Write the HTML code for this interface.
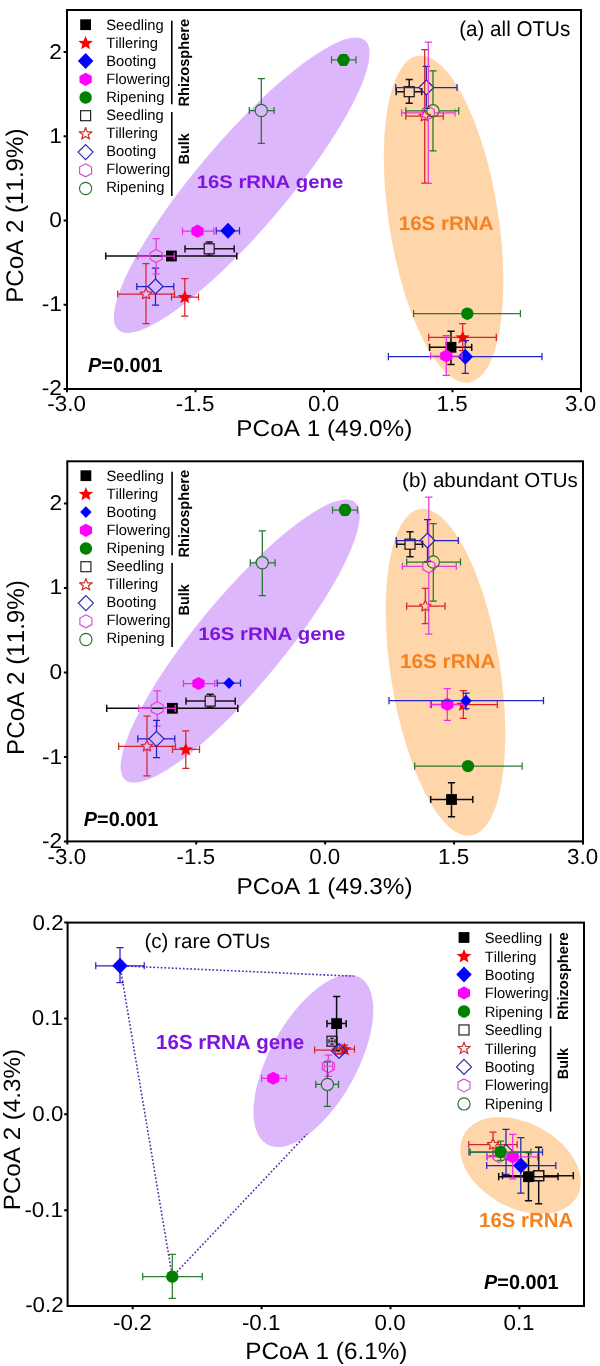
<!DOCTYPE html>
<html><head><meta charset="utf-8"><title>PCoA</title>
<style>html,body{margin:0;padding:0;background:#fff}svg{display:block;will-change:transform}text{font-kerning:none;text-rendering:geometricPrecision}</style></head>
<body>
<svg width="600" height="1366" viewBox="0 0 600 1366" font-family="'Liberation Sans', sans-serif">
<rect width="600" height="1366" fill="#fff"/>
<ellipse cx="241.7" cy="185.2" rx="190.2" ry="44.8" transform="rotate(-49.6 241.7 185.2)" fill="#ddb7fc"/>
<ellipse cx="443.6" cy="219.1" rx="165.3" ry="54.7" transform="rotate(-98.9 443.6 219.1)" fill="#ffd5aa"/>
<rect x="67" y="10" width="514.0" height="379.0" fill="none" stroke="#000" stroke-width="2"/>
<path d="M67.00 389.0v3.2M195.50 389.0v3.2M324.00 389.0v3.2M452.50 389.0v3.2M581.00 389.0v3.2M67 389.00h-3.4M67 304.78h-3.4M67 220.56h-3.4M67 136.33h-3.4M67 52.11h-3.4" stroke="#000" stroke-width="2" fill="none"/>
<text transform="matrix(0.2240 0 0 0.2179 47.30 411.10)" font-size="100" font-weight="normal" font-style="normal" fill="#000">-3.0</text>
<text transform="matrix(0.2240 0 0 0.2179 175.80 411.10)" font-size="100" font-weight="normal" font-style="normal" fill="#000">-1.5</text>
<text transform="matrix(0.2240 0 0 0.2179 308.03 411.10)" font-size="100" font-weight="normal" font-style="normal" fill="#000">0.0</text>
<text transform="matrix(0.2240 0 0 0.2179 436.53 411.10)" font-size="100" font-weight="normal" font-style="normal" fill="#000">1.5</text>
<text transform="matrix(0.2240 0 0 0.2179 565.03 411.10)" font-size="100" font-weight="normal" font-style="normal" fill="#000">3.0</text>
<text transform="matrix(0.2280 0 0 0.2136 41.73 394.80)" font-size="100" font-weight="normal" font-style="normal" fill="#000">-2</text>
<text transform="matrix(0.2280 0 0 0.2136 41.73 311.38)" font-size="100" font-weight="normal" font-style="normal" fill="#000">-1</text>
<text transform="matrix(0.2280 0 0 0.2136 49.32 227.06)" font-size="100" font-weight="normal" font-style="normal" fill="#000">0</text>
<text transform="matrix(0.2280 0 0 0.2136 49.32 142.93)" font-size="100" font-weight="normal" font-style="normal" fill="#000">1</text>
<text transform="matrix(0.2280 0 0 0.2136 49.32 58.71)" font-size="100" font-weight="normal" font-style="normal" fill="#000">2</text>
<text transform="matrix(0.2436 0 0 0.2298 236.29 435.60)" font-size="100" font-weight="normal" font-style="normal" fill="#000">PCoA 1 (49.0%)</text>
<text transform="translate(23.10 302.79) rotate(-90) scale(0.2412 0.2415)" font-size="100" font-weight="normal" font-style="normal" fill="#000">PCoA 2 (11.9%)</text>
<text transform="matrix(0.2060 0 0 0.2138 459.21 35.90)" font-size="100" font-weight="normal" font-style="normal" fill="#000">(a) all OTUs</text>
<text transform="matrix(0.1985 0 0 0.2036 88.05 372.40)" font-size="100" font-weight="bold"><tspan font-style="italic">P</tspan>=0.001</text>
<text transform="matrix(0.2027 0 0 0.1835 196.73 188.00)" font-size="100" font-weight="bold" font-style="normal" fill="#7d14e0">16S rRNA gene</text>
<text transform="matrix(0.2056 0 0 0.1978 398.71 230.40)" font-size="100" font-weight="bold" font-style="normal" fill="#f5821e">16S rRNA</text>
<rect x="80.20" y="19.30" width="10.80" height="10.80" fill="#000000"/>
<text transform="matrix(0.1479 0 0 0.1498 106.13 29.80)" font-size="100" font-weight="normal" font-style="normal" fill="#000">Seedling</text>
<polygon points="85.60,35.90 87.59,40.67 92.92,41.01 88.82,44.31 90.12,49.29 85.60,46.56 81.08,49.29 82.38,44.31 78.28,41.01 83.61,40.67" fill="#ff0000" stroke-linejoin="round"/>
<text transform="matrix(0.1479 0 0 0.1498 106.13 47.85)" font-size="100" font-weight="normal" font-style="normal" fill="#000">Tillering</text>
<polygon points="85.60,53.10 93.35,61.10 85.60,69.10 77.85,61.10" fill="#0000ff"/>
<text transform="matrix(0.1479 0 0 0.1498 106.13 65.90)" font-size="100" font-weight="normal" font-style="normal" fill="#000">Booting</text>
<polygon points="85.60,72.70 91.70,76.00 91.70,82.60 85.60,85.90 79.50,82.60 79.50,76.00" fill="#ff00ff"/>
<text transform="matrix(0.1479 0 0 0.1498 106.13 83.95)" font-size="100" font-weight="normal" font-style="normal" fill="#000">Flowering</text>
<ellipse cx="85.60" cy="97.50" rx="6.20" ry="6.20" fill="#008000"/>
<text transform="matrix(0.1479 0 0 0.1498 106.13 102.00)" font-size="100" font-weight="normal" font-style="normal" fill="#000">Ripening</text>
<rect x="80.60" y="110.70" width="10.00" height="10.00" fill="none" stroke="#1c1c1c" stroke-width="1.15"/>
<text transform="matrix(0.1479 0 0 0.1498 106.13 120.05)" font-size="100" font-weight="normal" font-style="normal" fill="#000">Seedling</text>
<polygon points="85.60,127.50 87.16,131.83 91.93,131.92 88.13,134.69 89.51,139.08 85.60,136.46 81.69,139.08 83.07,134.69 79.27,131.92 84.04,131.83" fill="none" stroke="#c8302c" stroke-width="1.15" stroke-linejoin="round"/>
<text transform="matrix(0.1479 0 0 0.1498 106.13 138.10)" font-size="100" font-weight="normal" font-style="normal" fill="#000">Tillering</text>
<polygon points="85.60,144.60 93.10,152.10 85.60,159.60 78.10,152.10" fill="none" stroke="#2a2aa6" stroke-width="1.15"/>
<text transform="matrix(0.1479 0 0 0.1498 106.13 156.15)" font-size="100" font-weight="normal" font-style="normal" fill="#000">Booting</text>
<polygon points="85.60,163.80 91.60,167.05 91.60,173.55 85.60,176.80 79.60,173.55 79.60,167.05" fill="none" stroke="#d44ed2" stroke-width="1.15"/>
<text transform="matrix(0.1479 0 0 0.1498 106.13 174.20)" font-size="100" font-weight="normal" font-style="normal" fill="#000">Flowering</text>
<ellipse cx="85.60" cy="188.50" rx="6.10" ry="6.10" fill="none" stroke="#2c702e" stroke-width="1.15"/>
<text transform="matrix(0.1479 0 0 0.1498 106.13 192.25)" font-size="100" font-weight="normal" font-style="normal" fill="#000">Ripening</text>
<path d="M171.8 20.80V104.20M171.8 112.00V196.00" stroke="#000" stroke-width="1.6" fill="none"/>
<text transform="translate(188.70 106.59) rotate(-90) scale(0.1461 0.1490)" font-size="100" font-weight="bold" font-style="normal" fill="#000">Rhizosphere</text>
<text transform="translate(188.70 164.46) rotate(-90) scale(0.1448 0.1490)" font-size="100" font-weight="bold" font-style="normal" fill="#000">Bulk</text>
<path d="M105.70 256.00L171.40 256.00 M105.70 252.40L105.70 259.60 M171.40 256.00L236.80 256.00 M236.80 252.40L236.80 259.60" stroke="#0c0c0c" stroke-width="1.5" fill="none"/>
<path d="M429.60 347.30L451.00 347.30 M429.60 343.70L429.60 350.90 M451.00 347.30L471.70 347.30 M471.70 343.70L471.70 350.90 M451.00 331.30L451.00 347.30 M447.40 331.30L454.60 331.30 M451.00 347.30L451.00 364.40 M447.40 364.40L454.60 364.40" stroke="#0c0c0c" stroke-width="1.5" fill="none"/>
<rect x="166.00" y="250.60" width="10.80" height="10.80" fill="#000000"/>
<rect x="445.60" y="341.90" width="10.80" height="10.80" fill="#000000"/>
<path d="M171.50 297.00L184.80 297.00 M171.50 293.40L171.50 300.60 M184.80 297.00L198.50 297.00 M198.50 293.40L198.50 300.60 M184.80 278.50L184.80 297.00 M181.20 278.50L188.40 278.50 M184.80 297.00L184.80 316.00 M181.20 316.00L188.40 316.00" stroke="#dc2222" stroke-width="1.25" fill="none"/>
<path d="M428.70 337.30L462.70 337.30 M428.70 333.70L428.70 340.90 M462.70 337.30L496.30 337.30 M496.30 333.70L496.30 340.90 M462.70 323.70L462.70 337.30 M459.10 323.70L466.30 323.70 M462.70 337.30L462.70 350.70 M459.10 350.70L466.30 350.70" stroke="#dc2222" stroke-width="1.25" fill="none"/>
<polygon points="184.80,290.20 186.74,294.84 191.92,295.18 187.93,298.38 189.20,303.22 184.80,300.57 180.40,303.22 181.67,298.38 177.68,295.18 182.86,294.84" fill="#ff0000" stroke-linejoin="round"/>
<polygon points="462.70,330.50 464.64,335.14 469.82,335.48 465.83,338.68 467.10,343.52 462.70,340.87 458.30,343.52 459.57,338.68 455.58,335.48 460.76,335.14" fill="#ff0000" stroke-linejoin="round"/>
<path d="M216.20 230.80L228.00 230.80 M216.20 227.20L216.20 234.40 M228.00 230.80L239.50 230.80 M239.50 227.20L239.50 234.40" stroke="#2626c4" stroke-width="1.25" fill="none"/>
<path d="M388.40 356.70L465.30 356.70 M388.40 353.10L388.40 360.30 M465.30 356.70L542.00 356.70 M542.00 353.10L542.00 360.30 M465.30 340.70L465.30 356.70 M461.70 340.70L468.90 340.70 M465.30 356.70L465.30 373.30 M461.70 373.30L468.90 373.30" stroke="#2626c4" stroke-width="1.25" fill="none"/>
<polygon points="228.00,222.80 235.75,230.80 228.00,238.80 220.25,230.80" fill="#0000ff"/>
<polygon points="465.30,348.70 473.05,356.70 465.30,364.70 457.55,356.70" fill="#0000ff"/>
<path d="M182.50 231.20L197.50 231.20 M182.50 227.60L182.50 234.80 M197.50 231.20L213.80 231.20 M213.80 227.60L213.80 234.80" stroke="#ee2ee0" stroke-width="1.25" fill="none"/>
<path d="M430.70 356.00L446.30 356.00 M430.70 352.40L430.70 359.60 M446.30 356.00L462.00 356.00 M462.00 352.40L462.00 359.60 M446.30 335.60L446.30 356.00 M442.70 335.60L449.90 335.60 M446.30 356.00L446.30 375.30 M442.70 375.30L449.90 375.30" stroke="#ee2ee0" stroke-width="1.25" fill="none"/>
<polygon points="197.50,224.60 203.60,227.90 203.60,234.50 197.50,237.80 191.40,234.50 191.40,227.90" fill="#ff00ff"/>
<polygon points="446.30,349.40 452.40,352.70 452.40,359.30 446.30,362.60 440.20,359.30 440.20,352.70" fill="#ff00ff"/>
<path d="M331.50 59.90L343.50 59.90 M331.50 56.30L331.50 63.50 M343.50 59.90L356.00 59.90 M356.00 56.30L356.00 63.50 M343.50 54.50L343.50 59.90 M339.90 54.50L347.10 54.50 M343.50 59.90L343.50 65.30 M339.90 65.30L347.10 65.30" stroke="#2a7e30" stroke-width="1.25" fill="none"/>
<path d="M413.60 313.70L467.30 313.70 M413.60 310.10L413.60 317.30 M467.30 313.70L520.40 313.70 M520.40 310.10L520.40 317.30" stroke="#2a7e30" stroke-width="1.25" fill="none"/>
<ellipse cx="343.50" cy="59.90" rx="6.20" ry="6.20" fill="#008000"/>
<ellipse cx="467.30" cy="313.70" rx="6.20" ry="6.20" fill="#008000"/>
<path d="M185.00 248.80L204.20 248.80 M185.00 245.20L185.00 252.40 M214.20 248.80L234.20 248.80 M234.20 245.20L234.20 252.40 M209.20 242.00L209.20 243.80 M205.60 242.00L212.80 242.00 M209.20 253.80L209.20 255.50 M205.60 255.50L212.80 255.50" stroke="#141414" stroke-width="1.5" fill="none"/>
<path d="M396.20 91.70L404.20 91.70 M396.20 88.10L396.20 95.30 M414.20 91.70L421.70 91.70 M421.70 88.10L421.70 95.30 M409.20 79.50L409.20 86.70 M405.60 79.50L412.80 79.50 M409.20 96.70L409.20 103.30 M405.60 103.30L412.80 103.30" stroke="#141414" stroke-width="1.5" fill="none"/>
<rect x="204.20" y="243.80" width="10.00" height="10.00" fill="none" stroke="#141414" stroke-width="1.2"/>
<rect x="404.20" y="86.70" width="10.00" height="10.00" fill="none" stroke="#141414" stroke-width="1.2"/>
<path d="M117.70 294.00L142.00 294.00 M117.70 290.40L117.70 297.60 M150.00 294.00L174.50 294.00 M174.50 290.40L174.50 297.60 M146.00 263.70L146.00 288.20 M142.40 263.70L149.60 263.70 M146.00 296.90L146.00 323.50 M142.40 323.50L149.60 323.50" stroke="#d8242e" stroke-width="1.25" fill="none"/>
<path d="M405.80 116.20L420.70 116.20 M405.80 112.60L405.80 119.80 M428.70 116.20L443.30 116.20 M443.30 112.60L443.30 119.80 M424.70 49.70L424.70 110.40 M421.10 49.70L428.30 49.70 M424.70 119.10L424.70 183.00 M421.10 183.00L428.30 183.00" stroke="#d8242e" stroke-width="1.25" fill="none"/>
<polygon points="146.00,288.20 147.67,291.79 151.74,292.21 148.70,294.84 149.55,298.69 146.00,296.73 142.45,298.69 143.30,294.84 140.26,292.21 144.33,291.79" fill="none" stroke="#d8242e" stroke-width="1.2" stroke-linejoin="round"/>
<polygon points="424.70,110.40 426.37,113.99 430.44,114.41 427.40,117.04 428.25,120.89 424.70,118.93 421.15,120.89 422.00,117.04 418.96,114.41 423.03,113.99" fill="none" stroke="#d8242e" stroke-width="1.2" stroke-linejoin="round"/>
<path d="M136.80 286.50L148.00 286.50 M136.80 282.90L136.80 290.10 M163.00 286.50L173.80 286.50 M173.80 282.90L173.80 290.10 M155.50 268.00L155.50 279.00 M151.90 268.00L159.10 268.00 M155.50 294.00L155.50 305.20 M151.90 305.20L159.10 305.20" stroke="#2222c0" stroke-width="1.25" fill="none"/>
<path d="M395.80 87.50L418.80 87.50 M395.80 83.90L395.80 91.10 M433.80 87.50L457.00 87.50 M457.00 83.90L457.00 91.10 M426.30 66.30L426.30 80.00 M422.70 66.30L429.90 66.30 M426.30 95.00L426.30 108.30 M422.70 108.30L429.90 108.30" stroke="#2222c0" stroke-width="1.25" fill="none"/>
<polygon points="155.50,279.00 163.00,286.50 155.50,294.00 148.00,286.50" fill="none" stroke="#2222c0" stroke-width="1.2"/>
<polygon points="426.30,80.00 433.80,87.50 426.30,95.00 418.80,87.50" fill="none" stroke="#2222c0" stroke-width="1.2"/>
<path d="M137.80 256.00L150.00 256.00 M137.80 252.40L137.80 259.60 M162.40 256.00L174.20 256.00 M174.20 252.40L174.20 259.60 M156.20 238.60L156.20 249.30 M152.60 238.60L159.80 238.60 M156.20 262.70L156.20 273.80 M152.60 273.80L159.80 273.80" stroke="#e43cdc" stroke-width="1.25" fill="none"/>
<path d="M401.70 112.80L422.10 112.80 M401.70 109.20L401.70 116.40 M434.50 112.80L455.00 112.80 M455.00 109.20L455.00 116.40 M428.30 42.20L428.30 106.10 M424.70 42.20L431.90 42.20 M428.30 119.50L428.30 183.30 M424.70 183.30L431.90 183.30" stroke="#e43cdc" stroke-width="1.25" fill="none"/>
<polygon points="156.20,249.50 162.20,252.75 162.20,259.25 156.20,262.50 150.20,259.25 150.20,252.75" fill="none" stroke="#e43cdc" stroke-width="1.2"/>
<polygon points="428.30,106.30 434.30,109.55 434.30,116.05 428.30,119.30 422.30,116.05 422.30,109.55" fill="none" stroke="#e43cdc" stroke-width="1.2"/>
<path d="M249.30 110.50L255.20 110.50 M249.30 106.90L249.30 114.10 M267.40 110.50L274.10 110.50 M274.10 106.90L274.10 114.10 M261.30 78.50L261.30 104.40 M257.70 78.50L264.90 78.50 M261.30 116.60L261.30 143.30 M257.70 143.30L264.90 143.30" stroke="#23742c" stroke-width="1.25" fill="none"/>
<path d="M405.80 110.80L426.90 110.80 M405.80 107.20L405.80 114.40 M439.10 110.80L458.70 110.80 M458.70 107.20L458.70 114.40 M433.00 70.80L433.00 104.70 M429.40 70.80L436.60 70.80 M433.00 116.90L433.00 150.80 M429.40 150.80L436.60 150.80" stroke="#23742c" stroke-width="1.25" fill="none"/>
<ellipse cx="261.30" cy="110.50" rx="6.10" ry="6.10" fill="none" stroke="#23742c" stroke-width="1.2"/>
<ellipse cx="433.00" cy="110.80" rx="6.10" ry="6.10" fill="none" stroke="#23742c" stroke-width="1.2"/>
<ellipse cx="240.2" cy="641.1" rx="180.2" ry="43.6" transform="rotate(-50.45 240.2 641.1)" fill="#ddb7fc"/>
<ellipse cx="445.5" cy="672.3" rx="165.3" ry="54.7" transform="rotate(-98.9 445.5 672.3)" fill="#ffd5aa"/>
<rect x="67.3" y="461.3" width="515.7" height="380.09999999999997" fill="none" stroke="#000" stroke-width="2"/>
<path d="M67.30 841.4v3.2M196.23 841.4v3.2M325.15 841.4v3.2M454.08 841.4v3.2M583.00 841.4v3.2M67.3 841.40h-3.4M67.3 756.93h-3.4M67.3 672.47h-3.4M67.3 588.00h-3.4M67.3 503.53h-3.4" stroke="#000" stroke-width="2" fill="none"/>
<text transform="matrix(0.2240 0 0 0.2179 47.60 863.50)" font-size="100" font-weight="normal" font-style="normal" fill="#000">-3.0</text>
<text transform="matrix(0.2240 0 0 0.2179 176.53 863.50)" font-size="100" font-weight="normal" font-style="normal" fill="#000">-1.5</text>
<text transform="matrix(0.2240 0 0 0.2179 309.18 863.50)" font-size="100" font-weight="normal" font-style="normal" fill="#000">0.0</text>
<text transform="matrix(0.2240 0 0 0.2179 438.10 863.50)" font-size="100" font-weight="normal" font-style="normal" fill="#000">1.5</text>
<text transform="matrix(0.2240 0 0 0.2179 567.03 863.50)" font-size="100" font-weight="normal" font-style="normal" fill="#000">3.0</text>
<text transform="matrix(0.2280 0 0 0.2136 42.03 847.80)" font-size="100" font-weight="normal" font-style="normal" fill="#000">-2</text>
<text transform="matrix(0.2280 0 0 0.2136 42.03 763.53)" font-size="100" font-weight="normal" font-style="normal" fill="#000">-1</text>
<text transform="matrix(0.2280 0 0 0.2136 49.62 678.87)" font-size="100" font-weight="normal" font-style="normal" fill="#000">0</text>
<text transform="matrix(0.2280 0 0 0.2136 49.62 594.20)" font-size="100" font-weight="normal" font-style="normal" fill="#000">1</text>
<text transform="matrix(0.2280 0 0 0.2136 49.62 509.53)" font-size="100" font-weight="normal" font-style="normal" fill="#000">2</text>
<text transform="matrix(0.2436 0 0 0.2298 236.59 893.50)" font-size="100" font-weight="normal" font-style="normal" fill="#000">PCoA 1 (49.3%)</text>
<text transform="translate(24.30 754.90) rotate(-90) scale(0.2419 0.2444)" font-size="100" font-weight="normal" font-style="normal" fill="#000">PCoA 2 (11.9%)</text>
<text transform="matrix(0.2053 0 0 0.2051 402.12 487.40)" font-size="100" font-weight="normal" font-style="normal" fill="#000">(b) abundant OTUs</text>
<text transform="matrix(0.1985 0 0 0.2036 83.85 825.80)" font-size="100" font-weight="bold"><tspan font-style="italic">P</tspan>=0.001</text>
<text transform="matrix(0.2037 0 0 0.1835 198.13 640.00)" font-size="100" font-weight="bold" font-style="normal" fill="#7d14e0">16S rRNA gene</text>
<text transform="matrix(0.2074 0 0 0.1993 399.90 667.60)" font-size="100" font-weight="bold" font-style="normal" fill="#f5821e">16S rRNA</text>
<rect x="80.50" y="470.30" width="10.80" height="10.80" fill="#000000"/>
<text transform="matrix(0.1479 0 0 0.1498 106.43 480.80)" font-size="100" font-weight="normal" font-style="normal" fill="#000">Seedling</text>
<polygon points="85.90,486.90 87.89,491.67 93.22,492.01 89.12,495.31 90.42,500.29 85.90,497.56 81.38,500.29 82.68,495.31 78.58,492.01 83.91,491.67" fill="#ff0000" stroke-linejoin="round"/>
<text transform="matrix(0.1479 0 0 0.1498 106.43 498.85)" font-size="100" font-weight="normal" font-style="normal" fill="#000">Tillering</text>
<polygon points="85.90,506.18 91.63,512.10 85.90,518.02 80.16,512.10" fill="#0000ff"/>
<text transform="matrix(0.1479 0 0 0.1498 106.43 516.90)" font-size="100" font-weight="normal" font-style="normal" fill="#000">Booting</text>
<polygon points="85.90,523.70 92.00,527.00 92.00,533.60 85.90,536.90 79.80,533.60 79.80,527.00" fill="#ff00ff"/>
<text transform="matrix(0.1479 0 0 0.1498 106.43 534.95)" font-size="100" font-weight="normal" font-style="normal" fill="#000">Flowering</text>
<ellipse cx="85.90" cy="548.50" rx="6.20" ry="6.20" fill="#008000"/>
<text transform="matrix(0.1479 0 0 0.1498 106.43 553.00)" font-size="100" font-weight="normal" font-style="normal" fill="#000">Ripening</text>
<rect x="80.90" y="561.70" width="10.00" height="10.00" fill="none" stroke="#1c1c1c" stroke-width="1.15"/>
<text transform="matrix(0.1479 0 0 0.1498 106.43 571.05)" font-size="100" font-weight="normal" font-style="normal" fill="#000">Seedling</text>
<polygon points="85.90,578.50 87.46,582.83 92.23,582.92 88.43,585.69 89.81,590.08 85.90,587.46 81.99,590.08 83.37,585.69 79.57,582.92 84.34,582.83" fill="none" stroke="#c8302c" stroke-width="1.15" stroke-linejoin="round"/>
<text transform="matrix(0.1479 0 0 0.1498 106.43 589.10)" font-size="100" font-weight="normal" font-style="normal" fill="#000">Tillering</text>
<polygon points="85.90,595.60 93.40,603.10 85.90,610.60 78.40,603.10" fill="none" stroke="#2a2aa6" stroke-width="1.15"/>
<text transform="matrix(0.1479 0 0 0.1498 106.43 607.15)" font-size="100" font-weight="normal" font-style="normal" fill="#000">Booting</text>
<polygon points="85.90,614.80 91.90,618.05 91.90,624.55 85.90,627.80 79.90,624.55 79.90,618.05" fill="none" stroke="#d44ed2" stroke-width="1.15"/>
<text transform="matrix(0.1479 0 0 0.1498 106.43 625.20)" font-size="100" font-weight="normal" font-style="normal" fill="#000">Flowering</text>
<ellipse cx="85.90" cy="639.50" rx="6.10" ry="6.10" fill="none" stroke="#2c702e" stroke-width="1.15"/>
<text transform="matrix(0.1479 0 0 0.1498 106.43 643.25)" font-size="100" font-weight="normal" font-style="normal" fill="#000">Ripening</text>
<path d="M172.10000000000002 471.80V555.20M172.10000000000002 563.00V647.00" stroke="#000" stroke-width="1.6" fill="none"/>
<text transform="translate(188.70 557.59) rotate(-90) scale(0.1461 0.1490)" font-size="100" font-weight="bold" font-style="normal" fill="#000">Rhizosphere</text>
<text transform="translate(188.70 615.46) rotate(-90) scale(0.1448 0.1490)" font-size="100" font-weight="bold" font-style="normal" fill="#000">Bulk</text>
<path d="M106.70 708.30L172.40 708.30 M106.70 704.70L106.70 711.90 M172.40 708.30L237.80 708.30 M237.80 704.70L237.80 711.90" stroke="#0c0c0c" stroke-width="1.5" fill="none"/>
<path d="M430.70 799.50L451.50 799.50 M430.70 795.90L430.70 803.10 M451.50 799.50L472.80 799.50 M472.80 795.90L472.80 803.10 M451.50 782.70L451.50 799.50 M447.90 782.70L455.10 782.70 M451.50 799.50L451.50 816.80 M447.90 816.80L455.10 816.80" stroke="#0c0c0c" stroke-width="1.5" fill="none"/>
<rect x="167.00" y="702.90" width="10.80" height="10.80" fill="#000000"/>
<rect x="446.10" y="794.10" width="10.80" height="10.80" fill="#000000"/>
<path d="M172.50 749.30L185.80 749.30 M172.50 745.70L172.50 752.90 M185.80 749.30L199.50 749.30 M199.50 745.70L199.50 752.90 M185.80 730.80L185.80 749.30 M182.20 730.80L189.40 730.80 M185.80 749.30L185.80 768.30 M182.20 768.30L189.40 768.30" stroke="#dc2222" stroke-width="1.25" fill="none"/>
<path d="M431.30 704.70L463.30 704.70 M431.30 701.10L431.30 708.30 M463.30 704.70L497.30 704.70 M497.30 701.10L497.30 708.30 M463.30 690.70L463.30 704.70 M459.70 690.70L466.90 690.70 M463.30 704.70L463.30 718.30 M459.70 718.30L466.90 718.30" stroke="#dc2222" stroke-width="1.25" fill="none"/>
<polygon points="185.80,742.50 187.74,747.14 192.92,747.48 188.93,750.68 190.20,755.52 185.80,752.87 181.40,755.52 182.67,750.68 178.68,747.48 183.86,747.14" fill="#ff0000" stroke-linejoin="round"/>
<polygon points="463.30,697.90 465.24,702.54 470.42,702.88 466.43,706.08 467.70,710.92 463.30,708.27 458.90,710.92 460.17,706.08 456.18,702.88 461.36,702.54" fill="#ff0000" stroke-linejoin="round"/>
<path d="M183.50 683.50L198.50 683.50 M183.50 679.90L183.50 687.10 M198.50 683.50L214.80 683.50 M214.80 679.90L214.80 687.10" stroke="#ee2ee0" stroke-width="1.25" fill="none"/>
<path d="M430.40 704.40L447.30 704.40 M430.40 700.80L430.40 708.00 M447.30 704.40L464.00 704.40 M464.00 700.80L464.00 708.00 M447.30 688.70L447.30 704.40 M443.70 688.70L450.90 688.70 M447.30 704.40L447.30 720.30 M443.70 720.30L450.90 720.30" stroke="#ee2ee0" stroke-width="1.25" fill="none"/>
<polygon points="198.50,676.90 204.60,680.20 204.60,686.80 198.50,690.10 192.40,686.80 192.40,680.20" fill="#ff00ff"/>
<polygon points="447.30,697.80 453.40,701.10 453.40,707.70 447.30,711.00 441.20,707.70 441.20,701.10" fill="#ff00ff"/>
<path d="M217.20 683.10L229.00 683.10 M217.20 679.50L217.20 686.70 M229.00 683.10L240.50 683.10 M240.50 679.50L240.50 686.70" stroke="#2626c4" stroke-width="1.25" fill="none"/>
<path d="M389.00 700.70L466.00 700.70 M389.00 697.10L389.00 704.30 M466.00 700.70L543.50 700.70 M543.50 697.10L543.50 704.30 M466.00 693.00L466.00 700.70 M462.40 693.00L469.60 693.00 M466.00 700.70L466.00 708.70 M462.40 708.70L469.60 708.70" stroke="#2626c4" stroke-width="1.25" fill="none"/>
<polygon points="229.00,677.18 234.74,683.10 229.00,689.02 223.26,683.10" fill="#0000ff"/>
<polygon points="466.00,694.78 471.74,700.70 466.00,706.62 460.26,700.70" fill="#0000ff"/>
<path d="M332.50 510.00L345.00 510.00 M332.50 506.40L332.50 513.60 M345.00 510.00L357.50 510.00 M357.50 506.40L357.50 513.60 M345.00 504.60L345.00 510.00 M341.40 504.60L348.60 504.60 M345.00 510.00L345.00 515.40 M341.40 515.40L348.60 515.40" stroke="#2a7e30" stroke-width="1.25" fill="none"/>
<path d="M414.70 766.10L468.00 766.10 M414.70 762.50L414.70 769.70 M468.00 766.10L522.10 766.10 M522.10 762.50L522.10 769.70" stroke="#2a7e30" stroke-width="1.25" fill="none"/>
<ellipse cx="345.00" cy="510.00" rx="6.20" ry="6.20" fill="#008000"/>
<ellipse cx="468.00" cy="766.10" rx="6.20" ry="6.20" fill="#008000"/>
<path d="M186.00 701.10L205.20 701.10 M186.00 697.50L186.00 704.70 M215.20 701.10L235.20 701.10 M235.20 697.50L235.20 704.70 M210.20 694.30L210.20 696.10 M206.60 694.30L213.80 694.30 M210.20 706.10L210.20 707.80 M206.60 707.80L213.80 707.80" stroke="#141414" stroke-width="1.5" fill="none"/>
<path d="M396.70 544.20L405.00 544.20 M396.70 540.60L396.70 547.80 M415.00 544.20L422.50 544.20 M422.50 540.60L422.50 547.80 M410.00 531.70L410.00 539.20 M406.40 531.70L413.60 531.70 M410.00 549.20L410.00 556.70 M406.40 556.70L413.60 556.70" stroke="#141414" stroke-width="1.5" fill="none"/>
<rect x="205.20" y="696.10" width="10.00" height="10.00" fill="none" stroke="#141414" stroke-width="1.2"/>
<rect x="405.00" y="539.20" width="10.00" height="10.00" fill="none" stroke="#141414" stroke-width="1.2"/>
<path d="M118.70 746.30L143.00 746.30 M118.70 742.70L118.70 749.90 M151.00 746.30L175.50 746.30 M175.50 742.70L175.50 749.90 M147.00 716.00L147.00 740.50 M143.40 716.00L150.60 716.00 M147.00 749.20L147.00 775.80 M143.40 775.80L150.60 775.80" stroke="#d8242e" stroke-width="1.25" fill="none"/>
<path d="M406.70 606.20L421.30 606.20 M406.70 602.60L406.70 609.80 M429.30 606.20L445.00 606.20 M445.00 602.60L445.00 609.80 M425.30 588.30L425.30 600.40 M421.70 588.30L428.90 588.30 M425.30 609.10L425.30 623.70 M421.70 623.70L428.90 623.70" stroke="#d8242e" stroke-width="1.25" fill="none"/>
<polygon points="147.00,740.50 148.67,744.09 152.74,744.51 149.70,747.14 150.55,750.99 147.00,749.03 143.45,750.99 144.30,747.14 141.26,744.51 145.33,744.09" fill="none" stroke="#d8242e" stroke-width="1.2" stroke-linejoin="round"/>
<polygon points="425.30,600.40 426.97,603.99 431.04,604.41 428.00,607.04 428.85,610.89 425.30,608.93 421.75,610.89 422.60,607.04 419.56,604.41 423.63,603.99" fill="none" stroke="#d8242e" stroke-width="1.2" stroke-linejoin="round"/>
<path d="M138.80 708.30L151.00 708.30 M138.80 704.70L138.80 711.90 M163.40 708.30L175.20 708.30 M175.20 704.70L175.20 711.90 M157.20 690.90L157.20 701.60 M153.60 690.90L160.80 690.90 M157.20 715.00L157.20 726.10 M153.60 726.10L160.80 726.10" stroke="#e43cdc" stroke-width="1.25" fill="none"/>
<path d="M402.50 566.30L422.60 566.30 M402.50 562.70L402.50 569.90 M435.00 566.30L456.30 566.30 M456.30 562.70L456.30 569.90 M428.80 497.20L428.80 559.60 M425.20 497.20L432.40 497.20 M428.80 573.00L428.80 634.20 M425.20 634.20L432.40 634.20" stroke="#e43cdc" stroke-width="1.25" fill="none"/>
<polygon points="157.20,701.80 163.20,705.05 163.20,711.55 157.20,714.80 151.20,711.55 151.20,705.05" fill="none" stroke="#e43cdc" stroke-width="1.2"/>
<polygon points="428.80,559.80 434.80,563.05 434.80,569.55 428.80,572.80 422.80,569.55 422.80,563.05" fill="none" stroke="#e43cdc" stroke-width="1.2"/>
<path d="M137.80 738.80L149.00 738.80 M137.80 735.20L137.80 742.40 M164.00 738.80L174.80 738.80 M174.80 735.20L174.80 742.40 M156.50 720.30L156.50 731.30 M152.90 720.30L160.10 720.30 M156.50 746.30L156.50 757.50 M152.90 757.50L160.10 757.50" stroke="#2222c0" stroke-width="1.25" fill="none"/>
<path d="M396.20 540.50L420.00 540.50 M396.20 536.90L396.20 544.10 M435.00 540.50L458.30 540.50 M458.30 536.90L458.30 544.10 M427.50 519.50L427.50 533.00 M423.90 519.50L431.10 519.50 M427.50 548.00L427.50 561.70 M423.90 561.70L431.10 561.70" stroke="#2222c0" stroke-width="1.25" fill="none"/>
<polygon points="156.50,731.30 164.00,738.80 156.50,746.30 149.00,738.80" fill="none" stroke="#2222c0" stroke-width="1.2"/>
<polygon points="427.50,533.00 435.00,540.50 427.50,548.00 420.00,540.50" fill="none" stroke="#2222c0" stroke-width="1.2"/>
<path d="M250.30 562.80L256.20 562.80 M250.30 559.20L250.30 566.40 M268.40 562.80L275.10 562.80 M275.10 559.20L275.10 566.40 M262.30 530.80L262.30 556.70 M258.70 530.80L265.90 530.80 M262.30 568.90L262.30 595.60 M258.70 595.60L265.90 595.60" stroke="#23742c" stroke-width="1.25" fill="none"/>
<path d="M406.70 562.00L427.20 562.00 M406.70 558.40L406.70 565.60 M439.40 562.00L460.50 562.00 M460.50 558.40L460.50 565.60 M433.30 523.70L433.30 555.90 M429.70 523.70L436.90 523.70 M433.30 568.10L433.30 601.20 M429.70 601.20L436.90 601.20" stroke="#23742c" stroke-width="1.25" fill="none"/>
<ellipse cx="262.30" cy="562.80" rx="6.10" ry="6.10" fill="none" stroke="#23742c" stroke-width="1.2"/>
<ellipse cx="433.30" cy="562.00" rx="6.10" ry="6.10" fill="none" stroke="#23742c" stroke-width="1.2"/>
<ellipse cx="313.4" cy="1060.9" rx="95.5" ry="43.6" transform="rotate(-61.1 313.4 1060.9)" fill="#ddb7fc"/>
<ellipse cx="520.5" cy="1165.5" rx="64.5" ry="42.5" transform="rotate(28.4 520.5 1165.5)" fill="#ffd5aa"/>
<rect x="67.6" y="922.6" width="516.4" height="383.4" fill="none" stroke="#000" stroke-width="2"/>
<path d="M132.70 1306.0v3.2M261.60 1306.0v3.2M390.50 1306.0v3.2M519.40 1306.0v3.2M67.6 1210.15h-3.4M67.6 1114.30h-3.4M67.6 1018.45h-3.4M67.6 922.60h-3.4" stroke="#000" stroke-width="2" fill="none"/>
<text transform="matrix(0.2240 0 0 0.2194 113.00 1329.50)" font-size="100" font-weight="normal" font-style="normal" fill="#000">-0.2</text>
<text transform="matrix(0.2240 0 0 0.2194 241.90 1329.50)" font-size="100" font-weight="normal" font-style="normal" fill="#000">-0.1</text>
<text transform="matrix(0.2240 0 0 0.2194 374.53 1329.50)" font-size="100" font-weight="normal" font-style="normal" fill="#000">0.0</text>
<text transform="matrix(0.2240 0 0 0.2194 503.43 1329.50)" font-size="100" font-weight="normal" font-style="normal" fill="#000">0.1</text>
<text transform="matrix(0.2238 0 0 0.2151 25.17 1312.10)" font-size="100" font-weight="normal" font-style="normal" fill="#000">-0.2</text>
<text transform="matrix(0.2238 0 0 0.2151 24.42 1217.05)" font-size="100" font-weight="normal" font-style="normal" fill="#000">-0.1</text>
<text transform="matrix(0.2238 0 0 0.2151 32.33 1121.20)" font-size="100" font-weight="normal" font-style="normal" fill="#000">0.0</text>
<text transform="matrix(0.2238 0 0 0.2151 31.86 1025.35)" font-size="100" font-weight="normal" font-style="normal" fill="#000">0.1</text>
<text transform="matrix(0.2238 0 0 0.2151 32.61 929.50)" font-size="100" font-weight="normal" font-style="normal" fill="#000">0.2</text>
<text transform="matrix(0.2430 0 0 0.2371 245.30 1358.70)" font-size="100" font-weight="normal" font-style="normal" fill="#000">PCoA 1 (6.1%)</text>
<text transform="translate(20.40 1210.19) rotate(-90) scale(0.2416 0.2356)" font-size="100" font-weight="normal" font-style="normal" fill="#000">PCoA 2 (4.3%)</text>
<text transform="matrix(0.2056 0 0 0.2065 144.42 948.40)" font-size="100" font-weight="normal" font-style="normal" fill="#000">(c) rare OTUs</text>
<text transform="matrix(0.2048 0 0 0.2036 156.12 1048.50)" font-size="100" font-weight="bold" font-style="normal" fill="#7d14e0">16S rRNA gene</text>
<text transform="matrix(0.2043 0 0 0.2036 479.02 1226.80)" font-size="100" font-weight="bold" font-style="normal" fill="#f5821e">16S rRNA</text>
<text transform="matrix(0.1985 0 0 0.2036 484.05 1289.20)" font-size="100" font-weight="bold"><tspan font-style="italic">P</tspan>=0.001</text>
<path d="M120 965.8L354 976.2M120 965.8L172.3 1276.7L307 1134" stroke="#5e2cb0" stroke-width="1.6" stroke-dasharray="1.8 1.9" fill="none"/>
<rect x="458.60" y="932.10" width="10.80" height="10.80" fill="#000000"/>
<text transform="matrix(0.1479 0 0 0.1498 484.63 943.30)" font-size="100" font-weight="normal" font-style="normal" fill="#000">Seedling</text>
<polygon points="464.00,948.99 465.99,953.76 471.32,954.10 467.22,957.40 468.52,962.38 464.00,959.65 459.48,962.38 460.78,957.40 456.68,954.10 462.01,953.76" fill="#ff0000" stroke-linejoin="round"/>
<text transform="matrix(0.1479 0 0 0.1498 484.63 961.68)" font-size="100" font-weight="normal" font-style="normal" fill="#000">Tillering</text>
<polygon points="464.00,966.48 471.75,974.48 464.00,982.48 456.25,974.48" fill="#0000ff"/>
<text transform="matrix(0.1479 0 0 0.1498 484.63 980.06)" font-size="100" font-weight="normal" font-style="normal" fill="#000">Booting</text>
<polygon points="464.00,986.37 470.10,989.67 470.10,996.27 464.00,999.57 457.90,996.27 457.90,989.67" fill="#ff00ff"/>
<text transform="matrix(0.1479 0 0 0.1498 484.63 998.44)" font-size="100" font-weight="normal" font-style="normal" fill="#000">Flowering</text>
<ellipse cx="464.00" cy="1011.46" rx="6.20" ry="6.20" fill="#008000"/>
<text transform="matrix(0.1479 0 0 0.1498 484.63 1016.82)" font-size="100" font-weight="normal" font-style="normal" fill="#000">Ripening</text>
<rect x="459.00" y="1024.95" width="10.00" height="10.00" fill="none" stroke="#1c1c1c" stroke-width="1.15"/>
<text transform="matrix(0.1479 0 0 0.1498 484.63 1035.20)" font-size="100" font-weight="normal" font-style="normal" fill="#000">Seedling</text>
<polygon points="464.00,1042.04 465.56,1046.37 470.33,1046.46 466.53,1049.23 467.91,1053.62 464.00,1051.00 460.09,1053.62 461.47,1049.23 457.67,1046.46 462.44,1046.37" fill="none" stroke="#c8302c" stroke-width="1.15" stroke-linejoin="round"/>
<text transform="matrix(0.1479 0 0 0.1498 484.63 1053.58)" font-size="100" font-weight="normal" font-style="normal" fill="#000">Tillering</text>
<polygon points="464.00,1059.43 471.50,1066.93 464.00,1074.43 456.50,1066.93" fill="none" stroke="#2a2aa6" stroke-width="1.15"/>
<text transform="matrix(0.1479 0 0 0.1498 484.63 1071.96)" font-size="100" font-weight="normal" font-style="normal" fill="#000">Booting</text>
<polygon points="464.00,1078.92 470.00,1082.17 470.00,1088.67 464.00,1091.92 458.00,1088.67 458.00,1082.17" fill="none" stroke="#d44ed2" stroke-width="1.15"/>
<text transform="matrix(0.1479 0 0 0.1498 484.63 1090.34)" font-size="100" font-weight="normal" font-style="normal" fill="#000">Flowering</text>
<ellipse cx="464.00" cy="1103.91" rx="6.10" ry="6.10" fill="none" stroke="#2c702e" stroke-width="1.15"/>
<text transform="matrix(0.1479 0 0 0.1498 484.63 1108.72)" font-size="100" font-weight="normal" font-style="normal" fill="#000">Ripening</text>
<path d="M550.6 933.60V1018.16M550.6 1026.25V1111.41" stroke="#000" stroke-width="1.6" fill="none"/>
<text transform="translate(568.00 1019.97) rotate(-90) scale(0.1461 0.1490)" font-size="100" font-weight="bold" font-style="normal" fill="#000">Rhizosphere</text>
<text transform="translate(568.00 1079.22) rotate(-90) scale(0.1448 0.1490)" font-size="100" font-weight="bold" font-style="normal" fill="#000">Bulk</text>
<path d="M502.50 1175.70L533.70 1175.70 M502.50 1172.10L502.50 1179.30 M543.70 1175.70L573.30 1175.70 M573.30 1172.10L573.30 1179.30 M538.70 1147.20L538.70 1170.70 M535.10 1147.20L542.30 1147.20 M538.70 1180.70L538.70 1203.80 M535.10 1203.80L542.30 1203.80" stroke="#141414" stroke-width="1.5" fill="none"/>
<rect x="533.70" y="1170.70" width="10.00" height="10.00" fill="none" stroke="#141414" stroke-width="1.2"/>
<path d="M468.80 1144.50L489.00 1144.50 M468.80 1140.90L468.80 1148.10 M497.00 1144.50L517.20 1144.50 M517.20 1140.90L517.20 1148.10 M493.00 1132.00L493.00 1138.70 M489.40 1132.00L496.60 1132.00 M493.00 1147.40L493.00 1155.50 M489.40 1155.50L496.60 1155.50" stroke="#d8242e" stroke-width="1.25" fill="none"/>
<polygon points="493.00,1138.70 494.67,1142.29 498.74,1142.71 495.70,1145.34 496.55,1149.19 493.00,1147.23 489.45,1149.19 490.30,1145.34 487.26,1142.71 491.33,1142.29" fill="none" stroke="#d8242e" stroke-width="1.2" stroke-linejoin="round"/>
<path d="M469.00 1152.00L498.50 1152.00 M469.00 1148.40L469.00 1155.60 M513.50 1152.00L542.50 1152.00 M542.50 1148.40L542.50 1155.60 M506.00 1129.30L506.00 1144.50 M502.40 1129.30L509.60 1129.30 M506.00 1159.50L506.00 1174.40 M502.40 1174.40L509.60 1174.40" stroke="#2222c0" stroke-width="1.25" fill="none"/>
<polygon points="506.00,1144.50 513.50,1152.00 506.00,1159.50 498.50,1152.00" fill="none" stroke="#2222c0" stroke-width="1.2"/>
<path d="M486.80 1156.00L492.80 1156.00 M486.80 1152.40L486.80 1159.60 M505.20 1156.00L511.00 1156.00 M511.00 1152.40L511.00 1159.60 M499.00 1149.00L499.00 1149.30 M495.40 1149.00L502.60 1149.00" stroke="#e43cdc" stroke-width="1.25" fill="none"/>
<polygon points="499.00,1149.50 505.00,1152.75 505.00,1159.25 499.00,1162.50 493.00,1159.25 493.00,1152.75" fill="none" stroke="#e43cdc" stroke-width="1.2"/>
<path d="M498.70 1176.70L528.50 1176.70 M498.70 1173.10L498.70 1180.30 M528.50 1176.70L558.00 1176.70 M558.00 1173.10L558.00 1180.30 M528.50 1152.50L528.50 1176.70 M524.90 1152.50L532.10 1152.50 M528.50 1176.70L528.50 1200.80 M524.90 1200.80L532.10 1200.80" stroke="#0c0c0c" stroke-width="1.5" fill="none"/>
<rect x="523.10" y="1171.30" width="10.80" height="10.80" fill="#000000"/>
<path d="M486.70 1165.50L520.80 1165.50 M486.70 1161.90L486.70 1169.10 M520.80 1165.50L555.80 1165.50 M555.80 1161.90L555.80 1169.10 M520.80 1137.50L520.80 1165.50 M517.20 1137.50L524.40 1137.50 M520.80 1165.50L520.80 1193.00 M517.20 1193.00L524.40 1193.00" stroke="#2626c4" stroke-width="1.25" fill="none"/>
<polygon points="520.80,1157.50 528.55,1165.50 520.80,1173.50 513.05,1165.50" fill="#0000ff"/>
<path d="M487.30 1156.80L512.70 1156.80 M487.30 1153.20L487.30 1160.40 M512.70 1156.80L537.50 1156.80 M537.50 1153.20L537.50 1160.40 M512.70 1134.30L512.70 1156.80 M509.10 1134.30L516.30 1134.30 M512.70 1156.80L512.70 1178.90 M509.10 1178.90L516.30 1178.90" stroke="#ee2ee0" stroke-width="1.25" fill="none"/>
<polygon points="512.70,1150.20 518.80,1153.50 518.80,1160.10 512.70,1163.40 506.60,1160.10 506.60,1153.50" fill="#ff00ff"/>
<path d="M470.30 1152.00L500.60 1152.00 M470.30 1148.40L470.30 1155.60 M500.60 1152.00L531.00 1152.00 M531.00 1148.40L531.00 1155.60 M500.60 1141.20L500.60 1152.00 M497.00 1141.20L504.20 1141.20 M500.60 1152.00L500.60 1160.40 M497.00 1160.40L504.20 1160.40" stroke="#2a7e30" stroke-width="1.25" fill="none"/>
<ellipse cx="500.60" cy="1152.00" rx="6.20" ry="6.20" fill="#008000"/>
<rect x="533.70" y="1170.70" width="10.00" height="10.00" fill="none" stroke="#141414" stroke-width="1.2"/>
<path d="M327.00 1023.60L336.60 1023.60 M327.00 1020.00L327.00 1027.20 M336.60 1023.60L346.20 1023.60 M346.20 1020.00L346.20 1027.20 M336.60 996.50L336.60 1023.60 M333.00 996.50L340.20 996.50 M336.60 1023.60L336.60 1050.70 M333.00 1050.70L340.20 1050.70" stroke="#0c0c0c" stroke-width="1.5" fill="none"/>
<rect x="331.20" y="1018.20" width="10.80" height="10.80" fill="#000000"/>
<path d="M335.00 1049.20L344.50 1049.20 M335.00 1045.60L335.00 1052.80 M344.50 1049.20L354.50 1049.20 M354.50 1045.60L354.50 1052.80 M344.50 1045.00L344.50 1049.20 M340.90 1045.00L348.10 1045.00 M344.50 1049.20L344.50 1053.00 M340.90 1053.00L348.10 1053.00" stroke="#dc2222" stroke-width="1.25" fill="none"/>
<polygon points="344.50,1042.40 346.44,1047.04 351.62,1047.38 347.63,1050.58 348.90,1055.42 344.50,1052.77 340.10,1055.42 341.37,1050.58 337.38,1047.38 342.56,1047.04" fill="#ff0000" stroke-linejoin="round"/>
<path d="M95.75 965.75L120.00 965.75 M95.75 962.15L95.75 969.35 M120.00 965.75L144.25 965.75 M144.25 962.15L144.25 969.35 M120.00 947.50L120.00 965.75 M116.40 947.50L123.60 947.50 M120.00 965.75L120.00 982.50 M116.40 982.50L123.60 982.50" stroke="#2626c4" stroke-width="1.25" fill="none"/>
<polygon points="120.00,957.75 127.75,965.75 120.00,973.75 112.25,965.75" fill="#0000ff"/>
<path d="M261.75 1078.25L273.25 1078.25 M261.75 1074.65L261.75 1081.85 M273.25 1078.25L286.25 1078.25 M286.25 1074.65L286.25 1081.85" stroke="#ee2ee0" stroke-width="1.25" fill="none"/>
<polygon points="273.25,1071.65 279.35,1074.95 279.35,1081.55 273.25,1084.85 267.15,1081.55 267.15,1074.95" fill="#ff00ff"/>
<path d="M142.70 1276.70L172.30 1276.70 M142.70 1273.10L142.70 1280.30 M172.30 1276.70L202.30 1276.70 M202.30 1273.10L202.30 1280.30 M172.30 1254.30L172.30 1276.70 M168.70 1254.30L175.90 1254.30 M172.30 1276.70L172.30 1298.30 M168.70 1298.30L175.90 1298.30" stroke="#2a7e30" stroke-width="1.25" fill="none"/>
<ellipse cx="172.30" cy="1276.70" rx="6.20" ry="6.20" fill="#008000"/>
<rect x="327.00" y="1036.20" width="10.00" height="10.00" fill="none" stroke="#141414" stroke-width="1.2"/>
<path d="M314.60 1050.00L334.50 1050.00 M314.60 1046.40L314.60 1053.60 M342.50 1050.00L347.00 1050.00 M347.00 1046.40L347.00 1053.60 M338.50 1052.90L338.50 1054.00 M334.90 1054.00L342.10 1054.00" stroke="#d8242e" stroke-width="1.25" fill="none"/>
<polygon points="338.50,1044.20 340.17,1047.79 344.24,1048.21 341.20,1050.84 342.05,1054.69 338.50,1052.73 334.95,1054.69 335.80,1050.84 332.76,1048.21 336.83,1047.79" fill="none" stroke="#d8242e" stroke-width="1.2" stroke-linejoin="round"/>
<polygon points="339.00,1043.50 346.50,1051.00 339.00,1058.50 331.50,1051.00" fill="none" stroke="#2222c0" stroke-width="1.2"/>
<path d="M328.35 1055.00L328.35 1059.60 M324.75 1055.00L331.95 1055.00 M328.35 1073.00L328.35 1076.40 M324.75 1076.40L331.95 1076.40" stroke="#e43cdc" stroke-width="1.25" fill="none"/>
<polygon points="328.35,1059.80 334.35,1063.05 334.35,1069.55 328.35,1072.80 322.35,1069.55 322.35,1063.05" fill="none" stroke="#e43cdc" stroke-width="1.2"/>
<path d="M315.75 1084.40L321.30 1084.40 M315.75 1080.80L315.75 1088.00 M333.50 1084.40L338.50 1084.40 M338.50 1080.80L338.50 1088.00 M327.40 1061.80L327.40 1078.30 M323.80 1061.80L331.00 1061.80 M327.40 1090.50L327.40 1106.40 M323.80 1106.40L331.00 1106.40" stroke="#23742c" stroke-width="1.25" fill="none"/>
<ellipse cx="327.40" cy="1084.40" rx="6.10" ry="6.10" fill="none" stroke="#23742c" stroke-width="1.2"/>
<path d="M328.6 1041.2H335.4M332 1037.8V1044.6M329 1039V1043.4M335 1039V1043.4M329.8 1038.2H334.2M329.8 1044.2H334.2" stroke="#141414" stroke-width="1" fill="none"/>
<path d="M324.2 1062.5V1070M332.6 1062.5V1070M324.2 1066.3H332.6" stroke="#e43cdc" stroke-width="1.1" fill="none"/>
</svg>
</body></html>
